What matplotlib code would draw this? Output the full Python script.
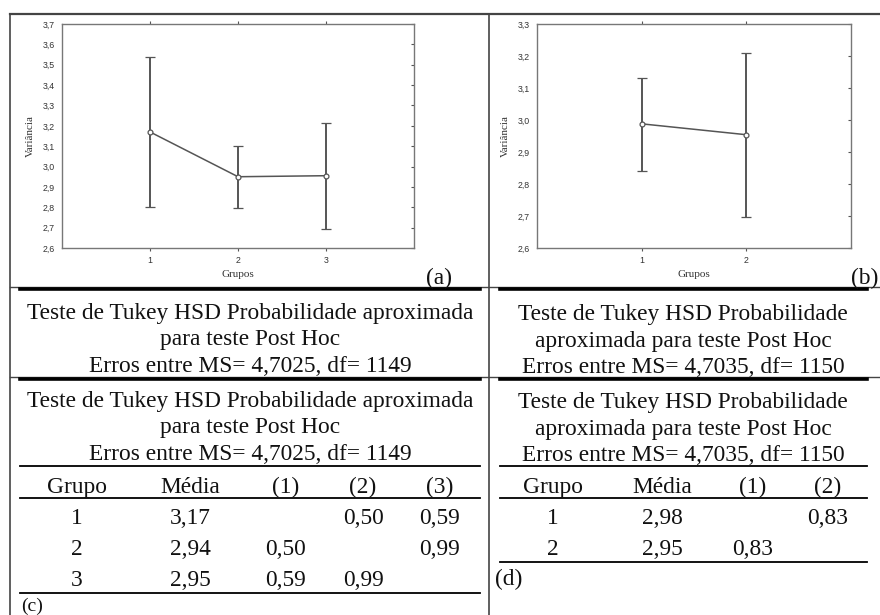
import matplotlib
matplotlib.use("Agg")
import matplotlib.pyplot as plt

# Dados (médias e limites dos intervalos)
grupos_a = [1, 2, 3]
media_a = [3.17, 2.95, 2.955]
sup_a = [3.54, 3.10, 3.215]
inf_a = [2.80, 2.795, 2.695]

grupos_b = [1, 2]
media_b = [2.988, 2.954]
sup_b = [3.13, 3.21]
inf_b = [2.842, 2.698]

yticks_a = [2.6, 2.7, 2.8, 2.9, 3.0, 3.1, 3.2, 3.3, 3.4, 3.5, 3.6, 3.7]
yticks_b = [2.6, 2.7, 2.8, 2.9, 3.0, 3.1, 3.2, 3.3]

titulo_c = ["Teste de Tukey HSD Probabilidade aproximada",
            "para teste Post Hoc",
            "Erros entre MS= 4,7025, df= 1149"]
titulo_d = ["Teste de Tukey HSD Probabilidade",
            "aproximada para teste Post Hoc",
            "Erros entre MS= 4,7035, df= 1150"]

cab_c = ["Grupo", "Média", "(1)", "(2)", "(3)"]
linhas_c = [["1", "3,17", "", "0,50", "0,59"],
            ["2", "2,94", "0,50", "", "0,99"],
            ["3", "2,95", "0,59", "0,99", ""]]
cab_d = ["Grupo", "Média", "(1)", "(2)"]
linhas_d = [["1", "2,98", "", "0,83"],
            ["2", "2,95", "0,83", ""]]

W, H = 880, 615
SERIF = "Liberation Serif"
SANS = "Liberation Sans"
GRAY = "#555555"
INK = "#111111"

fig = plt.figure(figsize=(W / 100, H / 100), dpi=100)
fig.patch.set_facecolor("white")


def px_axes(x0, y0, x1, y1):
    return fig.add_axes([x0 / W, 1 - y1 / H, (x1 - x0) / W, (y1 - y0) / H])


def fmt(v):
    return f"{v:.1f}".replace(".", ",")


def painel(ax, grupos, media, sup, inf, yticks, xlim):
    err = [[m - i for m, i in zip(media, inf)], [s - m for m, s in zip(media, sup)]]
    ax.errorbar(grupos, media, yerr=err, color=GRAY, lw=1.1, elinewidth=1.4,
                capsize=3.5, capthick=1.4, marker="o", ms=3.5, mfc="white",
                mec=GRAY, mew=0.9)
    ax.set_xlim(*xlim)
    ax.set_ylim(yticks[0], yticks[-1])
    ax.set_xticks(grupos)
    ax.set_xticklabels([str(g) for g in grupos], fontsize=6.3, family=SANS,
                       color="#333333")
    ax.set_yticks(yticks)
    ax.set_yticklabels([fmt(v) for v in yticks], fontsize=6.3, family=SANS,
                       color="#333333")
    ax.tick_params(axis="x", direction="out", length=2.5, width=0.8, color=GRAY,
                   top=True, pad=3)
    ax.tick_params(axis="y", direction="in", length=2.5, width=0.8, color=GRAY,
                   right=True, left=False, pad=5)
    for s in ax.spines.values():
        s.set_color("#777777")
        s.set_linewidth(1.0)
    ax.set_xlabel("Grupos", fontsize=8, family=SERIF, labelpad=4, color="#333333")
    ax.set_ylabel("Variância", fontsize=8, family=SERIF, labelpad=6,
                  color="#333333")


ax_a = px_axes(62, 24, 414, 248)
painel(ax_a, grupos_a, media_a, sup_a, inf_a, yticks_a, (0, 4))
ax_b = px_axes(537, 24, 851, 248)
painel(ax_b, grupos_b, media_b, sup_b, inf_b, yticks_b, (0, 3))

# camada de anotação em pixels
ov = fig.add_axes([0, 0, 1, 1], zorder=-1)
ov.set_xlim(0, W)
ov.set_ylim(H, 0)
ov.axis("off")

# molduras
ov.plot([10, W], [14, 14], color="#444444", lw=1.6)
ov.plot([10, 10], [14, H], color="#444444", lw=1.2)
ov.plot([489, 489], [14, H], color="#444444", lw=1.2)
ov.plot([10, W], [287, 287], color="#444444", lw=1.0)
ov.plot([10, W], [377, 377], color="#444444", lw=1.0)

fs = 16.8

ov.text(439, 276, "(a)", family=SERIF, fontsize=fs, ha="center",
        va="center_baseline", color=INK)
ov.text(865, 276, "(b)", family=SERIF, fontsize=fs, ha="center",
        va="center_baseline", color=INK)


def bloco(titulo, cx, y_titulo):
    for k, t in enumerate(titulo):
        ov.text(cx, y_titulo + 26.5 * k, t, family=SERIF, fontsize=fs,
                ha="center", va="center_baseline", color=INK)


# cabeçalhos repetidos
ov.plot([20, 480], [289, 289], color="black", lw=2.6)
ov.plot([500, 867], [289, 289], color="black", lw=2.6)
bloco(titulo_c, 250, 311)
bloco(titulo_d, 683, 312)
ov.plot([20, 480], [379, 379], color="black", lw=2.6)
ov.plot([500, 867], [379, 379], color="black", lw=2.6)
bloco(titulo_c, 250, 399)
bloco(titulo_d, 683, 400)


def tabela(cab, linhas, xs, x0, x1, y_fim):
    ov.plot([x0, x1], [466, 466], color="black", lw=1.3)
    for x, c in zip(xs, cab):
        ov.text(x, 485, c, family=SERIF, fontsize=fs, ha="center",
                va="center_baseline", color=INK)
    ov.plot([x0, x1], [498, 498], color="black", lw=1.3)
    for i, lin in enumerate(linhas):
        for x, c in zip(xs, lin):
            ov.text(x, 516 + 31 * i, c, family=SERIF, fontsize=fs, ha="center",
                    va="center_baseline", color=INK)
    ov.plot([x0, x1], [y_fim, y_fim], color="black", lw=1.3)


tabela(cab_c, linhas_c, [77, 190, 286, 363, 440], 20, 480, 593)
tabela(cab_d, linhas_d, [553, 662, 753, 828], 500, 867, 562)
ov.text(21, 615, "(c)", family=SERIF, fontsize=14, ha="left", va="bottom",
        color=INK)
ov.text(495, 577, "(d)", family=SERIF, fontsize=fs, ha="left",
        va="center_baseline", color=INK)

fig.savefig("out.png", dpi=100, facecolor="white")
